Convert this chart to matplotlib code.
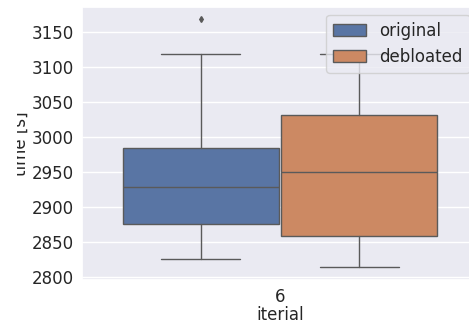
import matplotlib
matplotlib.use("Agg")
import matplotlib.pyplot as plt
from matplotlib.patches import Patch
from matplotlib.transforms import Bbox
import seaborn as sns

sns.set_theme(style="darkgrid")

# box statistics per variant, time in seconds
variants = ["original", "debloated"]
colors = ["#5975a4", "#cc8963"]
whislo = [2826, 2815]
q1 = [2876, 2859]
med = [2928, 2950]
q3 = [2984, 3031]
whishi = [3118, 3118]
fliers = [[3169], []]
group = "6"

stats = []
for i, name in enumerate(variants):
    stats.append(dict(label=name, whislo=whislo[i], q1=q1[i], med=med[i],
                      q3=q3[i], whishi=whishi[i], fliers=fliers[i]))

fig = plt.figure(figsize=(4.69, 3.24), dpi=100)
ax = fig.add_axes([0.175, 0.136, 0.844, 0.843])

line_c = "#5a5a5a"
bp = ax.bxp(stats, positions=[-0.2, 0.2], widths=0.394, patch_artist=True,
            boxprops=dict(edgecolor=line_c, linewidth=1.0),
            whiskerprops=dict(color=line_c, linewidth=1.0),
            capprops=dict(color=line_c, linewidth=1.0),
            medianprops=dict(color=line_c, linewidth=1.0),
            flierprops=dict(marker="d", markersize=3, markerfacecolor=line_c,
                            markeredgecolor=line_c),
            capwidths=0.2)
for box, c in zip(bp["boxes"], colors):
    box.set_facecolor(c)

ax.set_xlim(-0.5, 0.5)
ax.set_ylim(2796, 3186)
ax.set_yticks(range(2800, 3151, 50))
ax.set_xticks([0])
ax.set_xticklabels([group])
ax.grid(False, axis="x")
ax.tick_params(labelsize=12, pad=0)
ax.set_xlabel("iterial", fontsize=12, labelpad=0)
ax.set_ylabel("time [s]", fontsize=12)
ax.yaxis.set_label_coords(-0.131, 0.5)
# the left edge of the y label is trimmed off
ax.yaxis.label.set_clip_box(Bbox.from_extents(17, 0, 469, 324))
ax.yaxis.label.set_clip_on(True)

handles = [Patch(facecolor=c, edgecolor=line_c, linewidth=1.0, label=n)
           for c, n in zip(colors, variants)]
ax.legend(handles=handles, loc="upper right", fontsize=12)

fig.savefig("out.png", dpi=100)
